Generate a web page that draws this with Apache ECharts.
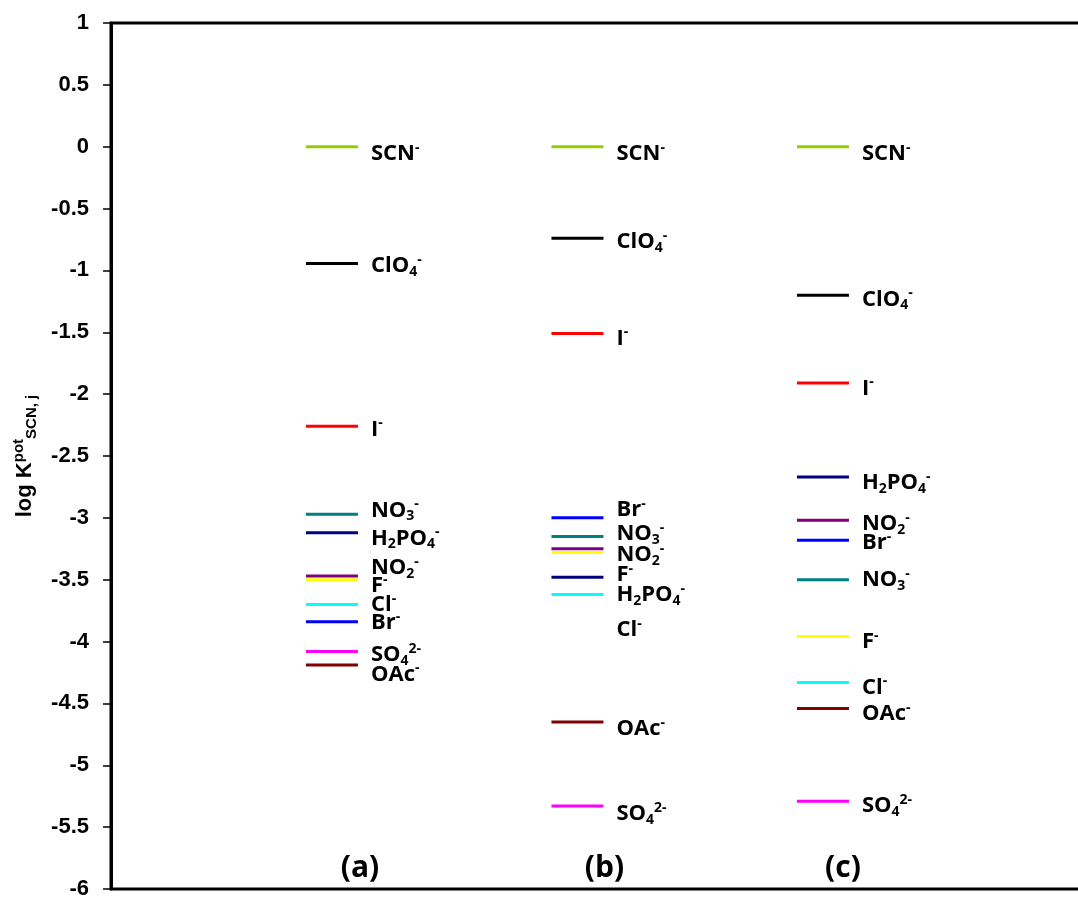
<!DOCTYPE html>
<html>
<head>
<meta charset="utf-8">
<script src="https://cdn.jsdelivr.net/npm/echarts@6/dist/echarts.min.js"></script>
<style>
  html, body { margin: 0; padding: 0; background: #fff; }
  #main { width: 1078px; height: 898px; }
</style>
</head>
<body>
<div id="main"></div>
<script>
// 三个面板 (a)(b)(c)
var panels = ['(a)', '(b)', '(c)'];
// 离子名称（富文本）与颜色
var ions = ['SCN', 'ClO4', 'I', 'NO3', 'H2PO4', 'NO2', 'F', 'Cl', 'Br', 'SO4', 'OAc'];
var ionText = [
  '{b|SCN}{sup|-}', '{b|ClO}{sub|4}{sup|-}', '{b|I}{sup|-}', '{b|NO}{sub|3}{sup|-}',
  '{b|H}{sub|2}{b|PO}{sub|4}{sup|-}', '{b|NO}{sub|2}{sup|-}', '{b|F}{sup|-}', '{b|Cl}{sup|-}',
  '{b|Br}{sup|-}', '{b|SO}{sub|4}{sup|2-}', '{b|OAc}{sup|-}'
];
var ionColors = ['#99cc00', '#000000', '#ff0000', '#008080', '#000080', '#800080',
  '#ffff00', '#00ffff', '#0000ff', '#ff00ff', '#800000'];

// log K 值（按 ions 顺序）
var valuesA = [0, -0.945, -2.26, -2.97, -3.12, -3.47, -3.50, -3.70, -3.84, -4.08, -4.19];
var valuesB = [0, -0.74, -1.51, -3.15, -3.48, -3.25, -3.28, -3.62, -3.00, -5.33, -4.65];
var valuesC = [0, -1.20, -1.91, -3.50, -2.67, -3.02, -3.96, -4.33, -3.18, -5.29, -4.54];
// 标签所在的纵坐标
var labelA = [-0.057, -0.965, -2.285, -2.94, -3.165, -3.407, -3.55, -3.705, -3.847, -4.105, -4.266];
var labelB = [-0.057, -0.77, -1.55, -3.132, -3.621, -3.298, -3.459, -3.907, -2.935, -5.39, -4.706];
var labelC = [-0.057, -1.235, -1.954, -3.50, -2.72, -3.05, -4.0, -4.37, -3.205, -5.33, -4.585];

var yMin = -6, yMax = 1, yStep = 0.5;

var richStyle = {
  b: { fontFamily: 'Open Sans', fontWeight: 'bold', fontSize: 22, lineHeight: 26, fill: '#000' },
  sub: { fontFamily: 'Open Sans', fontWeight: 'bold', fontSize: 14, lineHeight: 12, verticalAlign: 'bottom', fill: '#000' },
  sup: { fontFamily: 'Open Sans', fontWeight: 'bold', fontSize: 14, lineHeight: 14, verticalAlign: 'top', fill: '#000' }
};

function buildSeries(col, vals, labs) {
  var data = [];
  for (var i = 0; i < vals.length; i++) {
    data.push([col, vals[i], labs[i], i]);
  }
  return {
    type: 'custom',
    data: data,
    renderItem: function (params, api) {
      var p = api.coord([api.value(0), api.value(1)]);
      var ly = api.coord([api.value(0), api.value(2)])[1];
      var idx = api.value(3);
      return {
        type: 'group',
        children: [
          { type: 'line',
            shape: { x1: p[0] - 26, y1: p[1], x2: p[0] + 26, y2: p[1] },
            style: { stroke: ionColors[idx], lineWidth: 3 } },
          { type: 'text', x: p[0] + 39, y: ly,
            style: { text: ionText[idx], rich: richStyle, verticalAlign: 'middle', align: 'left' } }
        ]
      };
    }
  };
}

var panelSeries = {
  type: 'custom',
  data: panels.map(function (p, i) { return [i + 1, yMin, i]; }),
  renderItem: function (params, api) {
    var p = api.coord([api.value(0), api.value(1)]);
    var offs = [28, 27, 20];
    return {
      type: 'text', x: p[0] + offs[api.value(2)], y: p[1] - 21,
      style: { text: panels[api.value(2)], fontFamily: 'Open Sans', fontWeight: 'bold',
        fontSize: 30, fill: '#000', align: 'center', verticalAlign: 'middle' }
    };
  }
};

var myChart = echarts.init(document.getElementById('main'));
var option = {
  animation: false,
  grid: { left: 111, top: 23, right: -15, bottom: 9, show: true, borderColor: '#000', borderWidth: 3,
    containLabel: false, outerBoundsMode: 'none' },
  xAxis: { type: 'value', min: 0.1, max: 4.1, show: false },
  yAxis: {
    type: 'value', min: yMin, max: yMax, interval: yStep,
    name: '{b|log K}{sup|pot}{sub|SCN, j}',
    nameLocation: 'middle', nameGap: 72,
    nameTextStyle: {
      rich: {
        b: { fontFamily: 'Liberation Sans', fontWeight: 'bold', fontSize: 22, lineHeight: 28, color: '#000' },
        sup: { fontFamily: 'Liberation Sans', fontWeight: 'bold', fontSize: 15, lineHeight: 16, verticalAlign: 'top', color: '#000' },
        sub: { fontFamily: 'Liberation Sans', fontWeight: 'bold', fontSize: 15, lineHeight: 14, verticalAlign: 'bottom', color: '#000' }
      }
    },
    axisLine: { show: true, onZero: false, lineStyle: { color: '#000', width: 3 } },
    axisTick: { show: true, length: 8, lineStyle: { color: '#000', width: 1.5 } },
    axisLabel: { margin: 22, color: '#000', fontFamily: 'Liberation Sans', fontWeight: 'bold', fontSize: 22 },
    splitLine: { show: false }
  },
  series: [
    buildSeries(1, valuesA, labelA),
    buildSeries(2, valuesB, labelB),
    buildSeries(3, valuesC, labelC),
    panelSeries
  ]
};
myChart.setOption(option);
</script>
</body>
</html>
